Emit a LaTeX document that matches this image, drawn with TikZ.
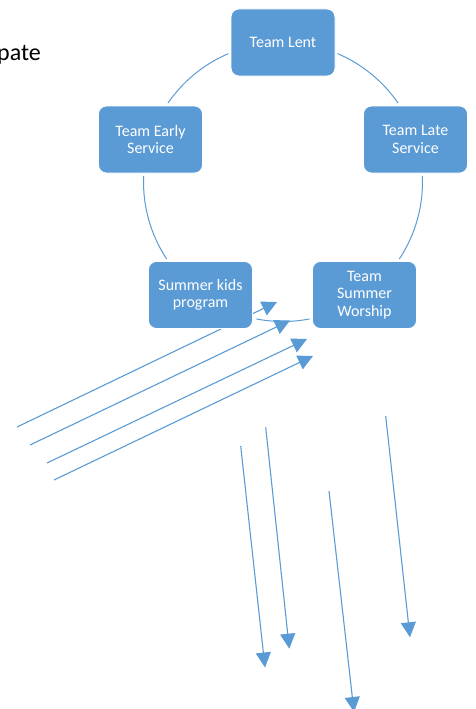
\documentclass[tikz,border=0pt]{standalone}
\usepackage{fontspec}
\setmainfont{Carlito}
\usepackage{tikz}
\usetikzlibrary{arrows.meta}
\definecolor{cycle_blue}{RGB}{91,155,213}

\begin{document}
\begin{tikzpicture}[x=1pt, y=1pt,
    team/.style={rectangle, rounded corners=8pt, fill=cycle_blue, draw=white,
      line width=0.8pt, minimum width=104pt, minimum height=67pt, inner sep=2pt,
      align=center, text=white, font=\fontsize{16}{17.6}\selectfont},
    ring/.style={draw=cycle_blue, line width=1pt},
    stray/.style={draw=cycle_blue, line width=1.1pt,
      -{Triangle[length=15pt,width=15pt]}}]
        % Page frame
        \useasboundingbox (0,0) rectangle (475,-709);
        \clip (0,0) rectangle (475,-709);
        % Cut-off heading
        \node[anchor=base west, inner sep=0pt,
          font=\fontsize{24}{28}\selectfont] (heading) at (-3,-61) {pate};
        % Slanted arrows (they pass behind the boxes)
        \coordinate (s1) at (17,-427);  \coordinate (e1) at (277,-302);
        \coordinate (s2) at (30,-445);  \coordinate (e2) at (290,-320.5);
        \coordinate (s3) at (47,-463);  \coordinate (e3) at (307,-339);
        \coordinate (s4) at (54,-480);  \coordinate (e4) at (313,-356);
        \draw[stray] (s1) -- (e1);
        \draw[stray] (s2) -- (e2);
        \draw[stray] (s3) -- (e3);
        \draw[stray] (s4) -- (e4);
        % Falling arrows
        \coordinate (d1) at (240.7,-446);  \coordinate (f1) at (265,-667.5);
        \coordinate (d2) at (265.7,-427.3); \coordinate (f2) at (289.3,-648.7);
        \coordinate (d3) at (329,-491);    \coordinate (f3) at (354,-712);
        \coordinate (d4) at (385.7,-416);  \coordinate (f4) at (410,-637.3);
        \draw[stray] (d1) -- (f1);
        \draw[stray] (d2) -- (f2);
        \draw[stray] (d3) -- (f3);
        \draw[stray] (d4) -- (f4);
        % Cycle ring
        \coordinate (ctr) at (283,-182);
        \draw[ring] ([shift={(113:139.5)}]ctr)
          arc[start angle=113, end angle=145.5, radius=139.5];
        \draw[ring] ([shift={(67:139.5)}]ctr)
          arc[start angle=67, end angle=34.5, radius=139.5];
        \draw[ring] ([shift={(177.5:139.5)}]ctr)
          arc[start angle=177.5, end angle=213.5, radius=139.5];
        \draw[ring] ([shift={(259:139.5)}]ctr)
          arc[start angle=259, end angle=281, radius=139.5];
        \draw[ring] ([shift={(326.5:139.5)}]ctr)
          arc[start angle=326.5, end angle=362.5, radius=139.5];
        % Teams
        \node[team] (lent) at (283,-42.5) {Team Lent};
        \node[team] (early) at (150.5,-139.5) {Team Early\\Service};
        \node[team] (late) at (415.5,-139.5) {Team Late\\Service};
        \node[team] (kids) at (200.5,-295) {Summer kids\\program};
        \node[team] (worship) at (364.5,-295) {Team\\Summer\\Worship};
      \end{tikzpicture}
\end{document}
